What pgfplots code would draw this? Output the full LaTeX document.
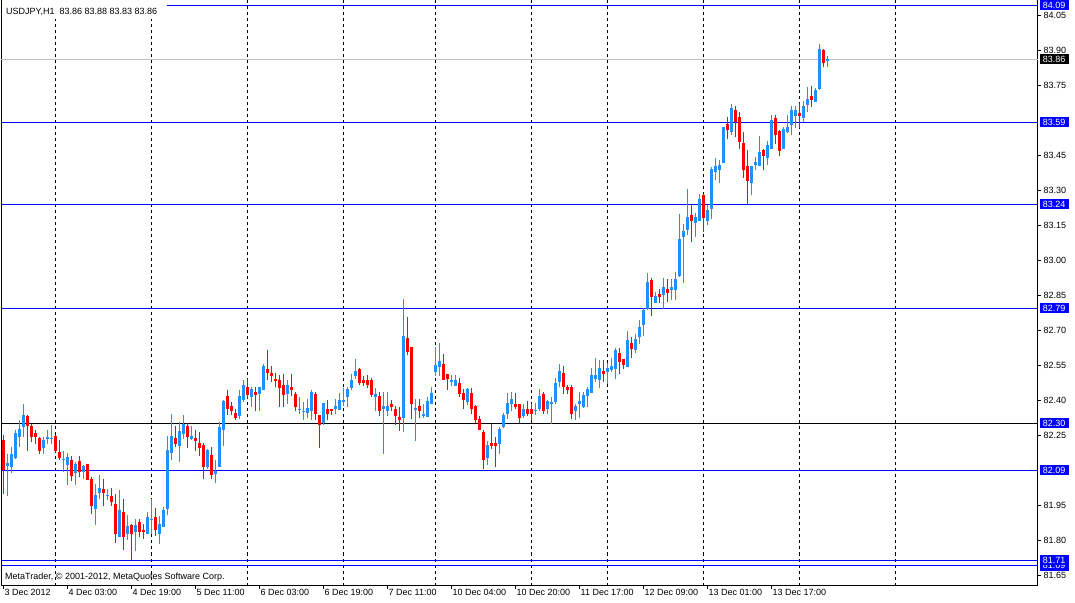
\documentclass[border=0pt]{standalone}
\usepackage{fontspec}
\setmainfont{Liberation Sans}
\usepackage{pgfplots}
\usepackage{pgfplotstable}
\pgfplotsset{compat=1.18}
\definecolor{upc}{RGB}{30,144,255}
\definecolor{dnc}{RGB}{255,0,0}
\definecolor{lvl}{RGB}{0,0,255}
\definecolor{bidc}{RGB}{192,192,192}

\pgfplotstableread{
i o h l c
0 82.23 82.25 82.00 82.10
1 82.12 82.17 81.99 82.13
2 82.114 82.20 82.086 82.171
3 82.154 82.271 82.15 82.26
4 82.243 82.314 82.20 82.276
5 82.286 82.386 82.243 82.336
6 82.331 82.336 82.183 82.289
7 82.289 82.30 82.221 82.243
8 82.26 82.271 82.211 82.243
9 82.239 82.243 82.171 82.181
10 82.196 82.243 82.171 82.229
11 82.236 82.271 82.214 82.243
12 82.233 82.293 82.214 82.239
13 82.246 82.25 82.179 82.183
14 82.179 82.229 82.143 82.154
15 82.146 82.18 82.09 82.15
16 82.121 82.174 82.036 82.157
17 82.146 82.164 82.057 82.074
18 82.086 82.136 82.036 82.126
19 82.139 82.16 82.071 82.093
20 82.093 82.121 82.064 82.117
21 82.126 82.129 82.06 82.061
22 82.064 82.071 81.914 81.946
23 81.934 82.043 81.864 81.996
24 82.003 82.079 81.979 82.026
25 82.019 82.064 81.946 82.003
26 81.99 82.021 81.971 81.996
27 81.989 82.026 81.946 81.964
28 81.957 81.996 81.786 81.829
29 81.814 82.014 81.814 81.929
30 81.92 81.976 81.757 81.814
31 81.826 81.907 81.80 81.86
32 81.867 81.871 81.714 81.829
33 81.836 81.893 81.754 81.867
34 81.876 81.893 81.814 81.836
35 81.847 81.869 81.807 81.836
36 81.826 81.921 81.826 81.90
37 81.89 81.976 81.829 81.891
38 81.90 81.939 81.817 81.843
39 81.826 81.907 81.786 81.869
40 81.857 81.943 81.857 81.929
41 81.936 82.246 81.907 82.186
42 82.174 82.343 82.143 82.246
43 82.236 82.289 82.20 82.214
44 82.203 82.307 82.136 82.267
45 82.257 82.336 82.236 82.30
46 82.289 82.303 82.196 82.243
47 82.236 82.289 82.229 82.246
48 82.239 82.274 82.183 82.226
49 82.217 82.267 82.164 82.197
50 82.207 82.217 82.064 82.114
51 82.114 82.193 82.107 82.186
52 82.167 82.20 82.064 82.079
53 82.086 82.146 82.046 82.097
54 82.114 82.307 82.114 82.288
55 82.274 82.40 82.203 82.396
56 82.417 82.446 82.336 82.364
57 82.374 82.393 82.336 82.354
58 82.346 82.364 82.314 82.326
59 82.331 82.446 82.321 82.417
60 82.403 82.486 82.393 82.467
61 82.457 82.493 82.411 82.421
62 82.414 82.457 82.374 82.446
63 82.436 82.457 82.354 82.424
64 82.428 82.457 82.354 82.457
65 82.443 82.557 82.443 82.546
66 82.536 82.614 82.486 82.518
67 82.517 82.546 82.478 82.503
68 82.493 82.517 82.46 82.481
69 82.488 82.507 82.371 82.453
70 82.464 82.514 82.371 82.424
71 82.428 82.486 82.383 82.464
72 82.457 82.514 82.421 82.443
73 82.426 82.436 82.353 82.371
74 82.36 82.414 82.34 82.361
75 82.353 82.393 82.314 82.354
76 82.343 82.405 82.325 82.367
77 82.353 82.443 82.314 82.433
78 82.426 82.436 82.314 82.34
79 82.336 82.336 82.196 82.293
80 82.30 82.386 82.293 82.386
81 82.364 82.403 82.314 82.34
82 82.364 82.364 82.336 82.353
83 82.361 82.403 82.34 82.374
84 82.361 82.433 82.361 82.403
85 82.393 82.453 82.374 82.403
86 82.414 82.457 82.374 82.446
87 82.454 82.514 82.443 82.486
88 82.503 82.576 82.493 82.524
89 82.536 82.536 82.464 82.474
90 82.486 82.507 82.464 82.474
91 82.486 82.507 82.453 82.464
92 82.486 82.496 82.414 82.424
93 82.414 82.454 82.354 82.426
94 82.417 82.436 82.333 82.354
95 82.361 82.436 82.171 82.374
96 82.354 82.436 82.333 82.374
97 82.386 82.403 82.354 82.371
98 82.364 82.374 82.293 82.333
99 82.326 82.374 82.271 82.314
100 82.324 82.833 82.264 82.674
101 82.667 82.757 82.593 82.61
102 82.628 82.628 82.321 82.383
103 82.364 82.404 82.225 82.365
104 82.374 82.404 82.324 82.354
105 82.331 82.385 82.324 82.343
106 82.331 82.414 82.331 82.396
107 82.385 82.457 82.385 82.431
108 82.521 82.628 82.503 82.554
109 82.543 82.645 82.503 82.567
110 82.554 82.597 82.488 82.488
111 82.514 82.514 82.445 82.493
112 82.485 82.507 82.46 82.486
113 82.46 82.507 82.46 82.485
114 82.475 82.497 82.414 82.424
115 82.432 82.45 82.361 82.40
116 82.393 82.454 82.381 82.447
117 82.432 82.454 82.343 82.361
118 82.374 82.381 82.303 82.314
119 82.318 82.332 82.271 82.271
120 82.264 82.271 82.103 82.143
121 82.153 82.226 82.121 82.206
122 82.217 82.30 82.193 82.203
123 82.217 82.243 82.114 82.203
124 82.214 82.288 82.171 82.278
125 82.286 82.346 82.283 82.336
126 82.34 82.433 82.321 82.39
127 82.386 82.433 82.353 82.407
128 82.386 82.433 82.364 82.371
129 82.386 82.386 82.303 82.326
130 82.333 82.386 82.326 82.364
131 82.364 82.396 82.333 82.343
132 82.364 82.386 82.314 82.343
133 82.356 82.386 82.336 82.357
134 82.361 82.45 82.353 82.417
135 82.426 82.436 82.34 82.354
136 82.361 82.403 82.343 82.396
137 82.388 82.414 82.30 82.389
138 82.393 82.496 82.386 82.476
139 82.478 82.557 82.457 82.524
140 82.517 82.546 82.428 82.46
141 82.457 82.467 82.426 82.443
142 82.457 82.467 82.321 82.343
143 82.354 82.386 82.314 82.374
144 82.384 82.435 82.326 82.397
145 82.371 82.436 82.369 82.421
146 82.421 82.457 82.371 82.45
147 82.431 82.54 82.431 82.507
148 82.49 82.583 82.479 82.507
149 82.49 82.574 82.45 82.539
150 82.526 82.574 82.479 82.511
151 82.521 82.56 82.471 82.539
152 82.531 82.581 82.521 82.546
153 82.533 82.626 82.493 82.614
154 82.604 82.626 82.511 82.564
155 82.576 82.576 82.533 82.55
156 82.543 82.697 82.543 82.657
157 82.646 82.674 82.581 82.621
158 82.614 82.683 82.604 82.664
159 82.671 82.743 82.643 82.714
160 82.721 82.796 82.674 82.786
161 82.789 82.946 82.789 82.907
162 82.914 82.924 82.76 82.843
163 82.819 82.864 82.819 82.846
164 82.857 82.879 82.819 82.843
165 82.853 82.924 82.793 82.886
166 82.876 82.921 82.822 82.86
167 82.871 82.921 82.831 82.886
168 82.871 82.95 82.829 82.921
169 82.931 83.20 82.931 83.093
170 83.10 83.153 82.903 83.124
171 83.128 83.304 83.107 83.185
172 83.193 83.238 83.078 83.167
173 83.161 83.20 83.10 83.185
174 83.167 83.286 83.167 83.261
175 83.283 83.283 83.121 83.181
176 83.168 83.236 83.15 83.214
177 83.221 83.40 83.178 83.39
178 83.378 83.438 83.346 83.403
179 83.388 83.428 83.331 83.411
180 83.417 83.571 83.417 83.571
181 83.586 83.614 83.521 83.56
182 83.55 83.671 83.536 83.65
183 83.643 83.66 83.528 83.593
184 83.614 83.635 83.478 83.507
185 83.503 83.55 83.353 83.386
186 83.403 83.471 83.238 83.34
187 83.331 83.403 83.278 83.403
188 83.407 83.443 83.386 83.421
189 83.405 83.531 83.403 83.464
190 83.471 83.479 83.386 83.446
191 83.44 83.51 83.407 83.493
192 83.478 83.621 83.478 83.60
193 83.611 83.621 83.50 83.536
194 83.554 83.56 83.446 83.468
195 83.478 83.571 83.478 83.56
196 83.55 83.621 83.543 83.571
197 83.578 83.66 83.538 83.643
198 83.617 83.66 83.568 83.643
199 83.629 83.674 83.568 83.617
200 83.611 83.681 83.593 83.66
201 83.668 83.743 83.636 83.69
202 83.703 83.75 83.657 83.686
203 83.678 83.74 83.678 83.731
204 83.736 83.928 83.729 83.907
205 83.90 83.907 83.828 83.846
206 83.858 83.878 83.828 83.86
}\candles

\newcommand{\lbl}{\fontsize{9}{10}\selectfont}

\pgfplotsset{
  candle/.style 2 args={draw=none, mark=none, forget plot,
    error bars/y dir=both, error bars/y explicit, error bars/error mark=none,
    error bars/error bar style={draw=#1, solid, line width=#2}},
}

\begin{document}
\begin{tikzpicture}[x=1pt,y=1pt]
\path[use as bounding box, fill=white] (0,0) rectangle (1075,602);
\begin{axis}[
  at={(1.5pt,16.5pt)}, anchor=south west,
  scale only axis, width=1036pt, height=585.5pt,
  xmin=-0.5, xmax=258.5, ymin=81.60571, ymax=84.115,
  axis x line*=bottom, axis y line*=right,
  axis line style={black, line width=1pt},
  tick align=outside, major tick length=3pt,
  tick style={black, line width=1pt},
  xtick={0,16,...,192},
  xticklabels={3 Dec 2012, 4 Dec 03:00, 4 Dec 19:00, 5 Dec 11:00, 6 Dec 03:00, 6 Dec 19:00, 7 Dec 11:00, 10 Dec 04:00, 10 Dec 20:00, 11 Dec 17:00, 12 Dec 09:00, 13 Dec 01:00, 13 Dec 17:00},
  xticklabel style={anchor=north west, inner sep=0pt, xshift=1pt, yshift=-1pt},
  ytick={84.05,83.90,83.75,83.45,83.30,83.15,83.00,82.85,82.70,82.55,82.40,82.25,81.95,81.80,81.65},
  yticklabels={84.05,83.90,83.75,83.45,83.30,83.15,83.00,82.85,82.70,82.55,82.40,82.25,81.95,81.80,81.65},
  yticklabel style={anchor=west, inner sep=0pt, xshift=3pt},
  tick label style={font=\lbl},
  clip mode=individual,
]
% left border
\draw[black, line width=1pt] (rel axis cs:0,0) -- (rel axis cs:0,1);
% dashed day separators
\pgfplotsinvokeforeach{13,37,61,85,108,132,151,175,199,223}{
  \draw[black, line width=1pt, dash pattern=on 3pt off 3pt] (axis cs:#1,81.60571) -- (axis cs:#1,84.115);
}
% horizontal levels (positions snapped to pixel rows)
\draw[bidc, line width=1pt] (axis cs:-0.5,83.86) -- (axis cs:258.5,83.86);
\pgfplotsinvokeforeach{84.0914,83.59,83.2386,82.7929,82.0986,81.7129,81.6914}{
  \draw[lvl, line width=1pt] (axis cs:-0.5,#1) -- (axis cs:258.5,#1);
}
\draw[black, line width=1pt] (axis cs:-0.5,82.30) -- (axis cs:258.5,82.30);
% up candles: wicks and bodies
\addplot[candle={upc}{1pt}, restrict expr to domain={\thisrow{c}-\thisrow{o}}{0:1}]
  table[x=i, y expr={(\thisrow{h}+\thisrow{l})/2},
        y error plus expr={(\thisrow{h}-\thisrow{l})/2},
        y error minus expr={(\thisrow{h}-\thisrow{l})/2}] {\candles};
\addplot[candle={upc}{3pt}, restrict expr to domain={\thisrow{c}-\thisrow{o}}{0:1}]
  table[x=i, y expr={(\thisrow{o}+\thisrow{c})/2},
        y error plus expr={max(abs(\thisrow{c}-\thisrow{o})/2,0.0022)},
        y error minus expr={max(abs(\thisrow{c}-\thisrow{o})/2,0.0022)}] {\candles};
% down candles
\addplot[candle={dnc}{1pt}, restrict expr to domain={\thisrow{o}-\thisrow{c}}{0.00001:1}]
  table[x=i, y expr={(\thisrow{h}+\thisrow{l})/2},
        y error plus expr={(\thisrow{h}-\thisrow{l})/2},
        y error minus expr={(\thisrow{h}-\thisrow{l})/2}] {\candles};
\addplot[candle={dnc}{3pt}, restrict expr to domain={\thisrow{o}-\thisrow{c}}{0.00001:1}]
  table[x=i, y expr={(\thisrow{o}+\thisrow{c})/2},
        y error plus expr={max(abs(\thisrow{c}-\thisrow{o})/2,0.0022)},
        y error minus expr={max(abs(\thisrow{c}-\thisrow{o})/2,0.0022)}] {\candles};
% price labels on the right
\newcommand{\plabel}[3]{%
  \node[fill=#3, text=white, font=\lbl, anchor=west, inner sep=0pt,
        minimum width=29pt, minimum height=10pt, xshift=2pt]
        at (axis cs:258.5,#1) {#2};}
\plabel{84.0914}{84.09}{lvl}
\plabel{83.59}{83.59}{lvl}
\plabel{83.2386}{83.24}{lvl}
\plabel{82.7929}{82.79}{lvl}
\plabel{82.30}{82.30}{lvl}
\plabel{82.0986}{82.09}{lvl}
\plabel{81.6914}{81.69}{lvl}
\plabel{81.7129}{81.71}{lvl}
\plabel{83.86}{83.86}{black}
\end{axis}
% title with white background
\fill[white] (2.2,583) rectangle (167,602);
\node[anchor=west, inner sep=0pt, font=\lbl] at (6,590.5) {USDJPY,H1\ \ 83.86 83.88 83.83 83.86};
\node[anchor=west, inner sep=0pt, font=\lbl] at (5,25) {MetaTrader, © 2001-2012, MetaQuotes Software Corp.};
\end{tikzpicture}
\end{document}
